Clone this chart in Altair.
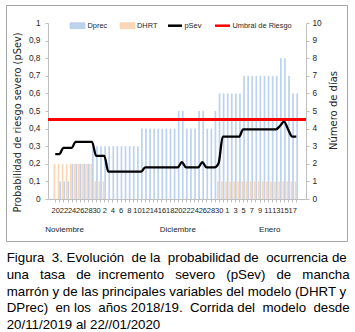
import json
import altair as alt
import pandas as pd

# ---------------- data ----------------
dias = [str(d) for d in range(20, 31)] + [str(d) for d in range(1, 32)] + [str(d) for d in range(1, 19)]
dprec = [0, 1, 1, 1, 2, 2, 2, 2, 2, 3, 3, 3, 3, 3, 3, 3, 3, 3, 3, 3,
         3, 4, 4, 4, 4, 4, 4, 4, 4, 4, 5, 5, 4, 4, 4, 5, 5, 4, 4, 5,
         6, 6, 6, 6, 6, 6, 7, 7, 7, 7, 7, 7, 7, 7, 7, 8, 8, 7, 6, 6]
dhrt = [2, 2, 2, 2, 2, 2, 2, 2, 2, 2, 1, 1, 1, 0, 0, 0, 0, 0, 0, 0,
        0, 0, 0, 0, 0, 0, 0, 0, 0, 0, 0, 0, 0, 0, 0, 0, 0, 0, 0, 0,
        1, 1, 1, 1, 1, 1, 1, 1, 1, 1, 1, 1, 1, 1, 1, 1, 1, 1, 1, 1]
psev = [0.255, 0.255, 0.29, 0.29, 0.29, 0.325, 0.325, 0.325, 0.325, 0.325,
        0.245, 0.245, 0.245, 0.155, 0.155, 0.155, 0.155, 0.155, 0.155, 0.155,
        0.155, 0.155, 0.18, 0.18, 0.18, 0.18, 0.18, 0.18, 0.18, 0.18,
        0.18, 0.21, 0.18, 0.18, 0.18, 0.18, 0.21, 0.18, 0.18, 0.18,
        0.205, 0.354, 0.354, 0.354, 0.354, 0.354, 0.396, 0.396, 0.396, 0.396,
        0.396, 0.396, 0.396, 0.396, 0.396, 0.415, 0.44, 0.395, 0.354, 0.354]
umbral = 0.45
meses = ["Noviembre", "Diciembre", "Enero"]
mes_idx = [2.3, 30.0, 52.5]
series = ["Dprec", "DHRT", "pSev", "Umbral de Riesgo"]
titulo_izq = "Probabilidad de riesgo severo (pSev)"
titulo_der = "Número de días"
leyenda_figura = [
    "Figura 3. Evolución de la probabilidad de ocurrencia de",
    "una tasa de incremento severo (pSev) de mancha",
    "marrón y de las principales variables del modelo (DHRT y",
    "DPrec) en los años 2018/19. Corrida del modelo desde",
    "20/11/2019 al 22//01/2020",
]

# ---------------- styles ----------------
NARROW = "Liberation Sans Narrow, Arial Narrow, Liberation Sans, sans-serif"
ARIAL = "Liberation Sans, Arial, sans-serif"
DEJAVU = "DejaVu Sans, Verdana, sans-serif"
GRAY = "#bfbfbf"
BLUE = "#bcd2ee"
ORANGE = "#fcd7b6"
TXT = "#262626"
CAP_FS = 13.3

# Arial / Liberation Sans advance widths (1/1000 em) used to justify the caption
AW = {" ": 278, "(": 333, ")": 333, ".": 278, "/": 278, ",": 278}
AW.update({c: 556 for c in "0123456789"})
AW.update(dict(zip("ABCDEFGHIJKLMNOPQRSTUVWXYZ",
                   [667, 667, 722, 722, 667, 611, 778, 722, 278, 500, 667, 556, 833,
                    722, 778, 667, 778, 722, 667, 611, 722, 667, 944, 667, 667, 611])))
AW.update(dict(zip("abcdefghijklmnopqrstuvwxyz",
                   [556, 556, 500, 556, 556, 278, 556, 556, 222, 222, 500, 222, 833,
                    556, 556, 556, 556, 333, 500, 278, 556, 500, 722, 500, 500, 500])))
AW.update({"á": 556, "é": 556, "í": 278, "ó": 556, "ú": 556, "ñ": 556})


def justificar(linea, ancho_px, fs):
    palabras = linea.split(" ")
    natural = sum(AW.get(c, 556) for c in linea) / 1000 * fs
    n = len(palabras) - 1
    esp = 0.278 * fs
    extra = max(ancho_px - natural, 0)
    out, acum, usados = [palabras[0]], 0.0, 0
    for k in range(1, n + 1):
        acum += extra / n
        m = int(round(acum / esp)) - usados
        usados += m
        out.append(" " + "\u00a0" * m + palabras[k])
    return "".join(out)


caption_lines = [justificar(l, 341.5, CAP_FS) for l in leyenda_figura[:-1]] + [leyenda_figura[-1]]

df = pd.DataFrame({"i": list(range(len(dias))), "dia": dias,
                   "Dprec": dprec, "DHRT": dhrt, "pSev": psev})
one = pd.DataFrame({"k": [0]})
meses_df = pd.DataFrame({"mes": meses, "i": mes_idx})

xscale = alt.Scale(domain=[-0.55, 60.15], nice=False, zero=False)
label_expr = "datum.value % 2 == 0 ? " + json.dumps(dias) + "[datum.value] : ''"

x_axis = alt.Axis(values=list(range(len(dias))), labelExpr=label_expr, title=None,
                  grid=False, tickSize=3, tickColor=GRAY, domainColor=GRAY,
                  labelFont=NARROW, labelFontSize=7.5, labelColor=TXT, labelPadding=4,
                  labelOverlap=False, labelFlush=False, labelAngle=0)

right_axis = alt.Axis(orient="right", values=list(range(0, 11)), title=titulo_der,
                      grid=False, tickSize=3, tickColor=GRAY, domainColor=GRAY,
                      labelFont=NARROW, labelFontSize=8.3, labelColor=TXT, labelPadding=3,
                      titleFont=DEJAVU, titleFontSize=10, titleFontWeight="normal",
                      titleColor=TXT, titleAngle=270, titleBaseline="middle",
                      titleX=27, titleY=87)

left_axis = alt.Axis(orient="left", values=[round(v * 0.1, 1) for v in range(11)],
                     labelExpr="datum.value == 0 ? '0' : datum.value == 1 ? '1' : replace(format(datum.value, '.1f'), '.', ',')",
                     title=titulo_izq, grid=False, tickSize=3, tickColor=GRAY, domainColor=GRAY,
                     labelFont=NARROW, labelFontSize=8.3, labelColor=TXT, labelPadding=5,
                     titleFont=DEJAVU, titleFontSize=9.8, titleFontWeight="normal",
                     titleColor=TXT, titleAngle=270, titleBaseline="middle",
                     titleX=-31, titleY=99)

yr = alt.Scale(domain=[0, 10], nice=False)
yl = alt.Scale(domain=[0, 1], nice=False)

X = alt.X("i:Q", scale=xscale, axis=x_axis)

bar_o = alt.Chart(df).mark_bar(size=1.7, xOffset=-0.85, color=ORANGE).encode(
    x=X,
    y=alt.Y("DHRT:Q", scale=yr, axis=right_axis),
)
bar_b = alt.Chart(df).mark_bar(size=1.7, xOffset=0.85, color=BLUE).encode(
    x=X,
    y=alt.Y("Dprec:Q", scale=yr, axis=right_axis),
)
bars = alt.layer(bar_o, bar_b)

line = alt.Chart(df).mark_line(color="black", strokeWidth=2.3, interpolate="monotone").encode(
    x=X,
    y=alt.Y("pSev:Q", scale=yl, axis=left_axis),
)
rule = alt.Chart(df).mark_rule(color="#ff0000", strokeWidth=2.4).encode(
    y=alt.YDatum(umbral, scale=yl, axis=left_axis),
)
lines = alt.layer(rule, line)

months = alt.Chart(meses_df).mark_text(font=NARROW, fontSize=8, color=TXT,
                                       baseline="middle", align="center").encode(
    x=X,
    y=alt.value(207),
    text="mes:N",
)

frame = alt.Chart(one).mark_rect(fill="transparent", stroke="#a6a6a6", strokeWidth=1).encode(
    x=alt.value(-41.5), x2=alt.value(299.5), y=alt.value(-17.5), y2=alt.value(218.5))


def swatch(x0, x1, color):
    return alt.Chart(one).mark_rect(fill=color, stroke="#a9c0dd" if color == BLUE else "#f2c9a5",
                                    strokeWidth=0.5).encode(
        x=alt.value(x0), x2=alt.value(x1), y=alt.value(-0.3), y2=alt.value(5.7))


def lswatch(x0, x1, color):
    return alt.Chart(one).mark_rule(color=color, strokeWidth=2.5).encode(
        x=alt.value(x0), x2=alt.value(x1), y=alt.value(2.7))


def ltext(x0, txt):
    return alt.Chart(one).mark_text(text=txt, font=NARROW, fontSize=7.4, color=TXT,
                                    align="left", baseline="middle").encode(
        x=alt.value(x0), y=alt.value(2.7))


legend = [swatch(22, 37, BLUE), ltext(39.5, series[0]),
          swatch(72, 87, ORANGE), ltext(89, series[1]),
          lswatch(120, 134, "black"), ltext(136.5, series[2]),
          lswatch(167, 182, "#ff0000"), ltext(184.5, series[3])]

caption = alt.Chart(one).mark_text(text=caption_lines, font=ARIAL, fontSize=CAP_FS,
                                   lineHeight=16.65, color="black", align="left",
                                   baseline="alphabetic").encode(
    x=alt.value(-41.3), y=alt.value(239.3))

chart = alt.layer(bars, lines, months, frame, *legend, caption).resolve_scale(
    y="independent"
).properties(
    width=258, height=176,
    padding={"left": 48, "top": 23, "right": 49, "bottom": 133},
    autosize=alt.AutoSizeParams(type="none"),
    background="white",
).configure_view(strokeWidth=0)

chart.save("out.html", embed_options={"renderer": "svg", "actions": False})
